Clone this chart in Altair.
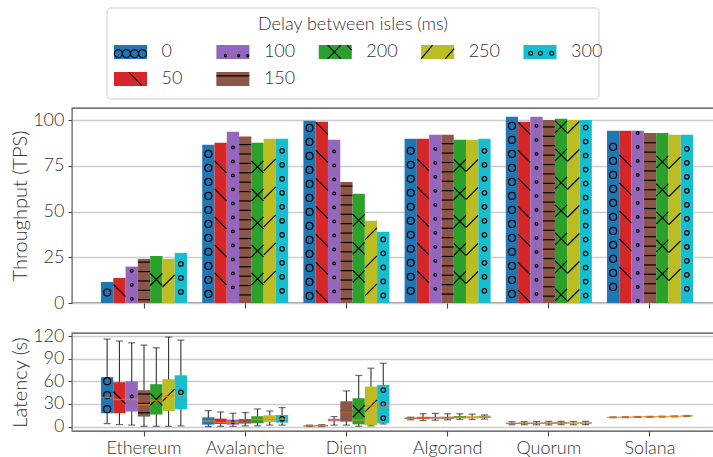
import math
import altair as alt
import pandas as pd

# ---------------- data ----------------
chains = ["Ethereum", "Avalanche", "Diem", "Algorand", "Quorum", "Solana"]
delays = ["0", "50", "100", "150", "200", "250", "300"]
colors = ["#1f77b4", "#d62728", "#9467bd", "#8c564b", "#2ca02c", "#bcbd22", "#17becf"]

# Throughput (TPS), one list per delay, in chain order
tps_0 = [11.5, 86.5, 99.6, 89.8, 101.8, 94.1]
tps_50 = [13.7, 87.6, 99.1, 89.8, 99.1, 94.1]
tps_100 = [19.9, 93.6, 89.2, 92.0, 101.8, 94.1]
tps_150 = [24.1, 91.0, 66.2, 92.0, 100.0, 93.0]
tps_200 = [25.7, 87.6, 59.7, 89.2, 100.7, 93.0]
tps_250 = [24.1, 89.8, 45.0, 89.2, 100.0, 92.0]
tps_300 = [27.4, 89.8, 38.9, 89.8, 100.0, 92.0]

# Latency (s) box statistics per chain: (low whisker, q1, median, q3, high whisker) per delay
lat_ethereum = [(4, 17.7, 38.5, 65.5, 116), (2.7, 17.7, 36, 58.8, 113.3), (2, 20, 36, 60, 111),
                (0.4, 13.3, 29.2, 48.2, 108), (0.4, 16, 34.5, 56.2, 104.4),
                (0.4, 20.7, 40.2, 62.8, 118.6), (1, 23, 41.2, 68, 114.6)]
lat_avalanche = [(0, 2.6, 7.5, 12.3, 21.2), (0.4, 3.5, 5.5, 10.6, 19.4), (0.4, 2.6, 5.7, 9.3, 17.7),
                 (1, 4, 7, 10, 18.6), (1, 4.4, 9.7, 13.7, 23.4), (2, 6.2, 10, 15, 20.7),
                 (2, 5.3, 10, 15.4, 25.2)]
lat_diem = [(0.1, 0.4, 0.9, 1.4, 2.0), (0.2, 0.6, 1.2, 1.8, 2.6), (2, 7, 8.8, 10.5, 13.3),
            (2, 6.6, 19.9, 33.6, 47.3), (0.5, 3, 8.8, 37.6, 67.7), (1, 2, 27.4, 53, 77.4),
            (3.5, 4.4, 27, 55.3, 84)]
lat_algorand = [(9, 10, 11, 12, 12.5), (8, 10, 11.5, 13, 17), (8.5, 10.5, 11.5, 13, 17.5),
                (9, 10.5, 12, 13, 17), (9.5, 11, 12.5, 14, 17), (9.5, 11, 12.5, 13.5, 16.5),
                (10, 11.5, 13, 14.5, 15.5)]
lat_quorum = [(2.5, 3.5, 4.2, 5, 6.5), (2.5, 3.6, 4.4, 5.2, 6.6), (2.4, 3.5, 4.4, 5.3, 6.8),
              (2.3, 3.6, 4.5, 5.4, 7.0), (2.6, 4.0, 5.0, 6.0, 7.0), (2.5, 3.8, 4.7, 5.5, 6.8),
              (2.6, 3.8, 4.8, 5.6, 6.9)]
lat_solana = [(11.8, 12.1, 12.3, 12.6, 12.9), (11.9, 12.2, 12.5, 12.8, 13.1), (12.2, 12.5, 12.8, 13.1, 13.4),
              (12.4, 12.7, 13.0, 13.3, 13.6), (12.6, 12.9, 13.2, 13.5, 13.8), (12.9, 13.2, 13.6, 13.9, 14.2),
              (13.4, 13.8, 14.2, 14.5, 14.8)]

tps = {"0": tps_0, "50": tps_50, "100": tps_100, "150": tps_150,
       "200": tps_200, "250": tps_250, "300": tps_300}
latency = {"Ethereum": lat_ethereum, "Avalanche": lat_avalanche, "Diem": lat_diem,
           "Algorand": lat_algorand, "Quorum": lat_quorum, "Solana": lat_solana}

# ---------------- styles ----------------
FONT = "Lato"
TXT = "#333333"
SPINE = "#444444"
TOP_H, BOT_H, W = 195, 98, 650
TOP_DOMAIN = [0, 106.6]
BOT_DOMAIN = [-5.8, 124]

hatch_shape = {"0": "circle", "50": "M-1,-1L1,1", "100": "circle", "150": "M-1,0L1,0",
               "200": "M-1,-1L1,1M-1,1L1,-1", "250": "M-1,1L1,-1", "300": "circle"}
hatch_size = {"0": 49, "50": 144, "100": 7, "150": 144, "200": 144, "250": 144, "300": 20}
hatch_step_px = {"0": 14, "50": 28, "100": 14, "150": 9.4, "200": 28, "250": 28, "300": 14}
hatch_half_px = {"0": 4, "50": 6.5, "100": 2, "150": 1.5, "200": 6.5, "250": 6.5, "300": 3}


def circ(cx, cy, r):
    return (f"M{cx - r:.3f},{cy:.3f}a{r:.3f},{r:.3f} 0 1,0 {2 * r:.3f},0"
            f"a{r:.3f},{r:.3f} 0 1,0 {-2 * r:.3f},0")


legend_path = {
    "0": "".join(circ(x, 0.1, 0.24) for x in (-0.74, -0.25, 0.24, 0.73)),
    "50": "M-0.1,-0.42L0.7,0.42",
    "100": "".join(circ(x, 0.22, 0.06) for x in (-0.45, 0.35, 0.9)),
    "150": "M-1,-0.19L1,-0.19",
    "200": "M-0.46,-0.42L0.34,0.42M-0.46,0.42L0.34,-0.42M0.72,-0.42L1,-0.12",
    "250": "M-1,0.42L-0.31,-0.42M0.46,0.42L1,-0.2",
    "300": "".join(circ(x, 0.08, 0.12) for x in (-0.57, 0.02, 0.71)),
}
RECT_PATH = "M-1,-0.424L1,-0.424L1,0.424L-1,0.424Z"

# ---------------- tables ----------------
bar_rows = []
for d in delays:
    for c, v in zip(chains, tps[d]):
        bar_rows.append({"chain": c, "delay": d, "tps": v})
bars_df = pd.DataFrame(bar_rows)

box_rows = []
for c in chains:
    for d, (lo, q1, med, q3, hi) in zip(delays, latency[c]):
        box_rows.append({"chain": c, "delay": d, "lo": lo, "q1": q1, "med": med, "q3": q3, "hi": hi})
box_df = pd.DataFrame(box_rows)


def hatch_positions(lo, hi, d, ppu):
    step = hatch_step_px[d] / ppu
    half = hatch_half_px[d] / ppu
    c = (lo + hi) / 2
    room = (hi - lo) / 2 - half
    if room < 0:
        return []
    n = int(room // step)
    return [c + j * step for j in range(-n, n + 1)]


top_ppu = TOP_H / (TOP_DOMAIN[1] - TOP_DOMAIN[0])
bot_ppu = BOT_H / (BOT_DOMAIN[1] - BOT_DOMAIN[0])

hatch_top = []
for r in bar_rows:
    for y in hatch_positions(0, r["tps"], r["delay"], top_ppu):
        hatch_top.append({"chain": r["chain"], "delay": r["delay"], "hy": y})
hatch_top_df = pd.DataFrame(hatch_top)

hatch_bot = []
for r in box_rows:
    for y in hatch_positions(r["q1"], r["q3"], r["delay"], bot_ppu):
        hatch_bot.append({"chain": r["chain"], "delay": r["delay"], "hy": y})
hatch_bot_df = pd.DataFrame(hatch_bot)

# legend layout (matplotlib-like column-major fill, 5 columns)
ncol = 5
nrow = -(-len(delays) // ncol)
full_cols = len(delays) - ncol * (nrow - 1)
leg_rows = []
col, row = 0, 0
for d in delays:
    leg_rows.append({"delay": d, "lcol": col, "lrow": row})
    row += 1
    cap = nrow if col < full_cols else nrow - 1
    if row >= cap:
        col, row = col + 1, 0
leg_df = pd.DataFrame(leg_rows)

# ---------------- encodings ----------------
color = alt.Color("delay:N", scale=alt.Scale(domain=delays, range=colors), legend=None)
x_sc = alt.Scale(paddingInner=0.15, paddingOuter=0.2866)
xoff = alt.XOffset("delay:N", sort=delays, scale=alt.Scale(domain=delays))

x_top = alt.X("chain:N", sort=chains, scale=x_sc,
              axis=alt.Axis(labels=False, ticks=True, tickSize=5, title=None, domain=False, grid=False))
x_bot = alt.X("chain:N", sort=chains, scale=x_sc,
              axis=alt.Axis(labels=True, labelAngle=0, ticks=True, tickSize=5, title=None,
                            domain=False, grid=False, labelPadding=3))
y_top_sc = alt.Scale(domain=TOP_DOMAIN, nice=False, zero=False)
y_bot_sc = alt.Scale(domain=BOT_DOMAIN, nice=False, zero=False)
y_top_axis = alt.Axis(values=[0, 25, 50, 75, 100], title="Throughput (TPS)", labelOverlap=False)
y_bot_axis = alt.Axis(values=[0, 30, 60, 90, 120], title="Latency (s)", labelOverlap=False)


def hatch_layers(df, x_enc, y_sc, y_ax):
    layers = []
    for d in delays:
        layers.append(
            alt.Chart(df).transform_filter(alt.datum.delay == d).mark_point(
                shape=hatch_shape[d], size=hatch_size[d], filled=False, color="black",
                strokeWidth=1.2, opacity=1
            ).encode(x=x_enc, xOffset=xoff, y=alt.Y("hy:Q", scale=y_sc, axis=y_ax))
        )
    return layers


bars = alt.Chart(bars_df).mark_bar().encode(
    x=x_top, xOffset=xoff,
    y=alt.Y("tps:Q", scale=y_top_sc, axis=y_top_axis),
    color=color)
bar_group = alt.layer(bars, *hatch_layers(hatch_top_df, x_top, y_top_sc, y_top_axis))

# legend drawn above the top panel
frame_df = pd.DataFrame({"t": ["Delay between isles (ms)"]})
leg_box = alt.Chart(frame_df).mark_rect(fill="white", stroke="#cccccc", strokeWidth=1, cornerRadius=4).encode(
    x=alt.value(35), x2=alt.value(527), y=alt.value(-100), y2=alt.value(-9))
leg_title = alt.Chart(frame_df).mark_text(font=FONT, fontSize=18, fontWeight=300, color=TXT,
                                          align="center", baseline="middle").encode(
    x=alt.value(281), y=alt.value(-83), text="t:N")
lx = alt.X("lcol:Q", scale=alt.Scale(domain=[0, ncol - 1], range=[58.5, 468]), axis=None)
ly = alt.Y("lrow:Q", scale=alt.Scale(domain=[0, 1], range=[-56, -29]), axis=None)
leg_patch = alt.Chart(leg_df).mark_point(shape=RECT_PATH, filled=True, size=1089, opacity=1, strokeWidth=0).encode(
    x=lx, y=ly, color=color)
leg_hatch = alt.Chart(leg_df).mark_point(filled=False, color="black", strokeWidth=1.1, size=1089, opacity=1).encode(
    x=lx, y=ly,
    shape=alt.Shape("delay:N", scale=alt.Scale(domain=delays, range=[legend_path[d] for d in delays]), legend=None))
leg_label = alt.Chart(leg_df).mark_text(font=FONT, fontSize=18, fontWeight=300, color=TXT,
                                        align="left", baseline="middle", dx=31).encode(
    x=lx, y=ly, text="delay:N")
legend_group = alt.layer(leg_box, leg_title, leg_patch, leg_hatch, leg_label)

top = alt.layer(bar_group, legend_group).resolve_scale(
    x="independent", y="independent", shape="independent"
).properties(width=W, height=TOP_H)

# bottom panel: box plots
whisk = alt.Chart(box_df).mark_rule(color="#333333", strokeWidth=1.1).encode(
    x=x_bot, xOffset=xoff, y=alt.Y("lo:Q", scale=y_bot_sc, axis=y_bot_axis), y2="hi:Q")
boxes = alt.Chart(box_df).mark_bar().encode(
    x=x_bot, xOffset=xoff, y=alt.Y("q1:Q", scale=y_bot_sc, axis=y_bot_axis), y2="q3:Q", color=color)
cap_hi = alt.Chart(box_df).mark_tick(color="#333333", size=7, thickness=1.2).encode(
    x=x_bot, xOffset=xoff, y=alt.Y("hi:Q", scale=y_bot_sc, axis=y_bot_axis))
cap_lo = alt.Chart(box_df).mark_tick(color="#333333", size=7, thickness=1.2).encode(
    x=x_bot, xOffset=xoff, y=alt.Y("lo:Q", scale=y_bot_sc, axis=y_bot_axis))
median = alt.Chart(box_df).mark_tick(color="#ff7f0e", size=12, thickness=1.5).encode(
    x=x_bot, xOffset=xoff, y=alt.Y("med:Q", scale=y_bot_sc, axis=y_bot_axis))
bottom = alt.layer(whisk, boxes, *hatch_layers(hatch_bot_df, x_bot, y_bot_sc, y_bot_axis),
                   cap_hi, cap_lo, median).properties(width=W, height=BOT_H)

chart = alt.vconcat(top, bottom, spacing=13).properties(
    padding={"left": 10, "top": 6, "right": -10, "bottom": 0}
).configure_view(
    stroke=SPINE, strokeWidth=1.3
).configure_axis(
    labelFont=FONT, labelFontSize=18, labelFontWeight=300, labelColor=TXT,
    titleFont=FONT, titleFontSize=20, titleFontWeight=300, titleColor=TXT,
    tickColor=SPINE, tickWidth=1.1, titlePadding=2, labelOverlap=False,
).configure_axisY(
    grid=True, gridColor="#cccccc", gridWidth=1.5, tickSize=4, labelPadding=4, labelOverlap=False,
).configure_axisX(grid=False)

chart.save("out.html", embed_options={"renderer": "svg", "actions": False})
